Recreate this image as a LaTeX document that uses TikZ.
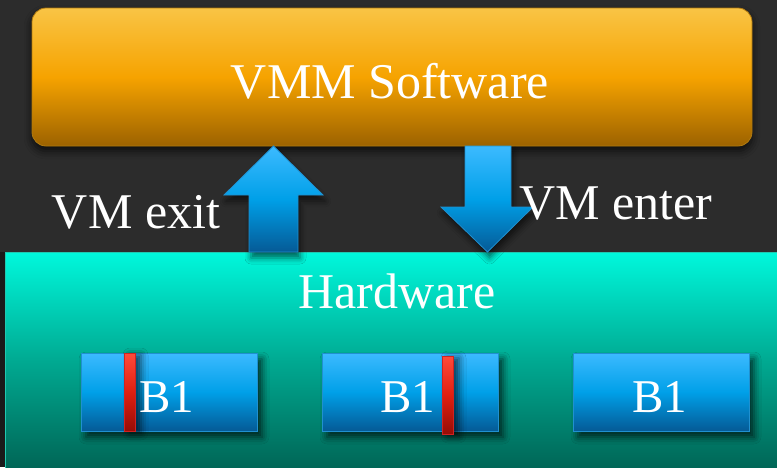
\documentclass[tikz,border=0pt]{standalone}
\usepackage{fontspec}
\setmainfont{Liberation Serif}
\usetikzlibrary{shadows.blur}

\definecolor{bgdark}{HTML}{2C2C2C}
\definecolor{bgedge}{HTML}{1A1A1A}
\definecolor{orgTop}{HTML}{F9C445}
\definecolor{orgMid}{HTML}{F6A300}
\definecolor{orgBot}{HTML}{9C6200}
\definecolor{orgLine}{HTML}{B07A10}
\definecolor{tealTop}{HTML}{00F8DC}
\definecolor{tealMid}{HTML}{00AA92}
\definecolor{tealBot}{HTML}{006656}
\definecolor{tealLine}{HTML}{20C8B0}
\definecolor{bluTop}{HTML}{3CBAFF}
\definecolor{bluMid}{HTML}{00A0E8}
\definecolor{bluBot}{HTML}{055A96}
\definecolor{bluLine}{HTML}{2090D0}
\definecolor{redTop}{HTML}{FF4A3A}
\definecolor{redMid}{HTML}{E02010}
\definecolor{redBot}{HTML}{960C06}
\definecolor{redLine}{HTML}{D02222}

\tikzset{
  lbl/.style={text=white, font=\fontsize{50}{56}\selectfont, inner sep=0pt, anchor=base},
  blbl/.style={text=white, font=\fontsize{47}{52}\selectfont, inner sep=0pt, anchor=base},
  vmmbox/.style={draw=orgLine, line width=0.8pt, rounded corners=14pt,
    top color=orgTop, bottom color=orgBot, middle color=orgMid,
    minimum width=720pt, minimum height=138pt, inner sep=0pt,
    blur shadow={shadow xshift=0pt, shadow yshift=-5pt, shadow blur radius=8pt, shadow opacity=70}},
  hwbox/.style={draw=tealLine, line width=0.8pt,
    top color=tealTop, bottom color=tealBot, middle color=tealMid,
    minimum width=773pt, minimum height=216pt, inner sep=0pt},
  blockarrow/.style={draw=bluLine, line width=0.8pt,
    top color=bluTop, bottom color=bluBot, middle color=bluMid,
    blur shadow={shadow xshift=2pt, shadow yshift=-6pt, shadow blur radius=6pt, shadow opacity=60}},
  bbox/.style={draw=bluLine, line width=0.8pt,
    top color=bluTop, bottom color=bluBot, middle color=bluMid,
    minimum width=176pt, minimum height=78pt, inner sep=0pt,
    blur shadow={shadow xshift=5pt, shadow yshift=-6pt, shadow blur radius=7pt, shadow opacity=70}},
  rbar/.style={draw=redLine, line width=0.8pt,
    top color=redTop, bottom color=redBot, middle color=redMid,
    minimum width=11pt, minimum height=78pt, inner sep=0pt,
    blur shadow={shadow xshift=6pt, shadow yshift=-2pt, shadow blur radius=7pt, shadow opacity=65}}
}

\begin{document}
\begin{tikzpicture}[x=1pt, y=-1pt]
  % background
  \fill[bgdark] (0,0) rectangle (777,467);
  \fill[bgedge] (0,252) rectangle (5,467);
  \useasboundingbox (0,0) rectangle (777,467);

  % VMM layer
  \node[vmmbox] (vmm) at (392,77) {};
  \node[lbl] (vmmtxt) at (390,98) {VMM Software};

  % hardware layer
  \node[hwbox] (hw) at (391.5,360) {};
  \node[lbl] (hwtxt) at (397,308) {Hardware};

  % transition arrows
  \coordinate (upTip) at (273.5,146);
  \coordinate (downTip) at (487.5,252);
  \path[blockarrow] (upTip) -- (323,195) -- (298,195) -- (298,252)
    -- (249,252) -- (249,195) -- (224,195) -- cycle;
  \path[blockarrow] (465,146) -- (511,146) -- (511,207) -- (533,207)
    -- (downTip) -- (441,207) -- (465,207) -- cycle;
  \node[lbl] (exittxt) at (136,228) {VM exit};
  \node[lbl] (entertxt) at (616,219) {VM enter};

  % blocks on the hardware
  \node[bbox] (ba) at (169,392) {};
  \node[bbox] (bb) at (410,392) {};
  \node[bbox] (bc) at (661,392) {};
  \node[rbar] (ra) at (129.5,392) {};
  \node[rbar] (rb) at (447.5,395) {};
  \node[blbl] at (167,412) {B1};
  \node[blbl] at (408,412) {B1};
  \node[blbl] at (660,412) {B1};
\end{tikzpicture}
\end{document}
